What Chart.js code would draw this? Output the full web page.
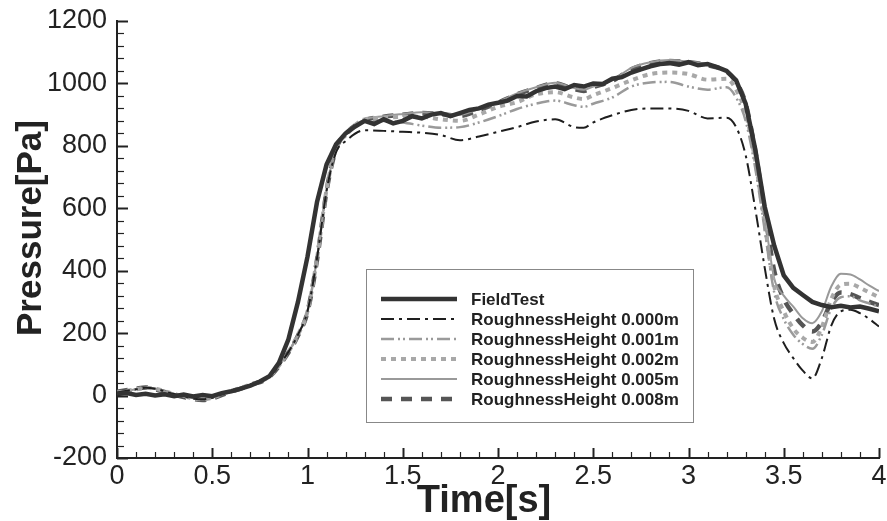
<!DOCTYPE html>
<html>
<head>
<meta charset="utf-8">
<script src="https://cdn.jsdelivr.net/npm/chart.js@4.4.0/dist/chart.umd.min.js"></script>
<style>
  html, body { margin: 0; padding: 0; background: #fff; }
</style>
</head>
<body>
<canvas id="pressureChart" width="887" height="521"></canvas>
<script>
// --- Data ---
const SERIES_LABELS = [
  "FieldTest",
  "RoughnessHeight 0.000m",
  "RoughnessHeight 0.001m",
  "RoughnessHeight 0.002m",
  "RoughnessHeight 0.005m",
  "RoughnessHeight 0.008m"
];

const X_TICKS = [0, 0.5, 1, 1.5, 2, 2.5, 3, 3.5, 4];
const Y_TICKS = [-200, 0, 200, 400, 600, 800, 1000, 1200];
const X_TITLE = "Time[s]";
const Y_TITLE = "Pressure[Pa]";

const FIELD_TIME = [
  0, 0.05, 0.1, 0.15, 0.2, 0.25, 0.3, 0.35, 0.4, 0.45,
  0.5, 0.55, 0.6, 0.65, 0.7, 0.75, 0.8, 0.85, 0.9, 0.95,
  1.0, 1.05, 1.1, 1.15, 1.2, 1.25, 1.3, 1.35, 1.4, 1.45,
  1.5, 1.55, 1.6, 1.65, 1.7, 1.75, 1.8, 1.85, 1.9, 1.95,
  2.0, 2.05, 2.1, 2.15, 2.2, 2.25, 2.3, 2.35, 2.4, 2.45,
  2.5, 2.55, 2.6, 2.65, 2.7, 2.75, 2.8, 2.85, 2.9, 2.95,
  3.0, 3.05, 3.1, 3.15, 3.2, 3.25, 3.3, 3.35, 3.4, 3.45,
  3.5, 3.55, 3.6, 3.65, 3.7, 3.75, 3.8, 3.85, 3.9, 3.95,
  4.0
];
const FIELD_TEST = [
  5, 8, 2, 6, 0, 4, -2, 3, -3, 2,
  -2, 8, 14, 22, 32, 45, 62, 105, 180, 300,
  445, 620, 740, 805, 840, 862, 880, 870, 885, 872,
  880, 895, 888, 900, 905, 895, 905, 915, 920, 932,
  938, 945, 960, 958, 975, 985, 990, 982, 995, 990,
  1000, 998, 1015, 1020, 1035, 1045, 1055, 1062, 1065, 1060,
  1068, 1058, 1062, 1052, 1040, 1010, 935, 790, 605, 480,
  385, 345, 322, 300, 290, 283, 288, 282, 285, 278,
  270
];

const SIM_TIME = [
  0, 0.1, 0.15, 0.2, 0.3, 0.45, 0.6, 0.7, 0.8, 0.9,
  0.95, 1.0, 1.05, 1.1, 1.15, 1.2, 1.3, 1.4, 1.5, 1.6,
  1.7, 1.8, 1.9, 2.0, 2.1, 2.2, 2.3, 2.4, 2.45, 2.5,
  2.6, 2.7, 2.8, 2.9, 3.0, 3.1, 3.2, 3.25, 3.3, 3.35,
  3.4, 3.45, 3.5, 3.55, 3.6, 3.65, 3.7, 3.75, 3.8, 3.85,
  3.9, 3.95, 4.0
];
const RH_000 = [
  10, 20, 25, 22, 5, -12, 15, 35, 62, 140,
  195, 270, 440, 655, 780, 815, 850, 848, 845, 842,
  835, 818, 830, 845, 860, 878, 885, 860, 858, 875,
  898, 915, 920, 920, 912, 888, 890, 860, 770, 600,
  410, 245, 168, 120, 80, 55, 120, 225, 270, 275,
  264, 245, 221
];
const RH_001 = [
  10, 20, 25, 22, 5, -12, 15, 35, 62, 140,
  195, 270, 440, 660, 790, 830, 878, 880, 875, 865,
  858, 860, 875, 895, 918, 935, 945, 930, 925, 935,
  955, 990, 1003, 1005, 990, 980, 988, 955, 880, 730,
  530, 330, 245, 195, 165, 150, 195, 280, 315, 318,
  305, 295, 285
];
const RH_002 = [
  10, 20, 25, 22, 5, -12, 15, 35, 62, 140,
  195, 270, 440, 660, 790, 835, 885, 890, 893, 893,
  885, 880, 900, 925, 940, 965, 972, 955, 950, 962,
  985, 1010, 1030, 1035, 1030, 1012, 1015, 980, 905, 755,
  550, 350, 270, 215, 185, 172, 220, 310, 355, 358,
  345, 330, 315
];
const RH_005 = [
  10, 20, 25, 22, 5, -12, 15, 35, 62, 140,
  195, 270, 440, 660, 795, 840, 885, 895, 902, 908,
  905, 900, 918, 940, 968, 988, 1002, 985, 980, 990,
  1010, 1050, 1068, 1075, 1070, 1062, 1040, 1005, 930, 780,
  575, 375, 320, 285, 248, 232, 270, 350, 390, 388,
  372, 352, 335
];
const RH_008 = [
  12, 22, 26, 20, 3, -14, 13, 34, 60, 138,
  192, 268, 435, 655, 790, 838, 882, 893, 900, 905,
  902, 896, 915, 938, 965, 985, 1000, 982, 976, 988,
  1008, 1045, 1065, 1072, 1068, 1058, 1038, 1005, 935, 785,
  590, 400, 310, 262, 225, 205, 235, 300, 330, 325,
  312, 300, 290
];

const FONT = '"Liberation Sans", Arial, sans-serif';
const INK = "#222";

function toPoints(times, values) {
  return times.map((t, i) => ({ x: t, y: values[i] }));
}

// --- Inward major/minor tick marks (drawn from the scales) ---
const inwardTicks = {
  id: "inwardTicks",
  afterDraw(chart) {
    const ctx = chart.ctx;
    const xs = chart.scales.x;
    const ys = chart.scales.y;
    const axisY = ys.getPixelForValue(ys.min);
    const axisX = xs.getPixelForValue(xs.min);
    ctx.save();
    ctx.strokeStyle = INK;
    for (let i = 0; i <= 40; i++) {
      const major = i % 5 === 0;
      const px = Math.round(xs.getPixelForValue(i / 10)) + 0.5;
      ctx.lineWidth = major ? 2 : 1.2;
      ctx.beginPath();
      ctx.moveTo(px, axisY);
      ctx.lineTo(px, axisY - (major ? 10 : 6));
      ctx.stroke();
    }
    for (let i = 0; i <= 35; i++) {
      const v = -200 + i * 40;
      const major = v % 200 === 0;
      const py = Math.round(ys.getPixelForValue(v)) + 0.5;
      ctx.lineWidth = major ? 2 : 1.2;
      ctx.beginPath();
      ctx.moveTo(axisX, py);
      ctx.lineTo(axisX + (major ? 11 : 7), py);
      ctx.stroke();
    }
    ctx.restore();
  }
};

// --- Axis titles, placed like the original ---
const axisTitles = {
  id: "axisTitles",
  afterDraw(chart) {
    const ctx = chart.ctx;
    ctx.save();
    ctx.fillStyle = INK;
    ctx.textAlign = "center";
    ctx.textBaseline = "middle";
    ctx.font = "bold 38px " + FONT;
    ctx.fillText(X_TITLE, 484, 502);
    ctx.translate(31, 228);
    ctx.rotate(-Math.PI / 2);
    ctx.font = "bold 35px " + FONT;
    ctx.fillText(Y_TITLE, 0, 0);
    ctx.restore();
  }
};

// --- Boxed legend inside the plot ---
const boxLegend = {
  id: "boxLegend",
  afterDraw(chart) {
    const ctx = chart.ctx;
    const box = { x: 366.5, y: 269.5, w: 327, h: 153 };
    ctx.save();
    ctx.fillStyle = "#fff";
    ctx.fillRect(box.x, box.y, box.w, box.h);
    ctx.strokeStyle = "#888";
    ctx.lineWidth = 1;
    ctx.strokeRect(box.x, box.y, box.w, box.h);
    chart.data.datasets.forEach((ds, i) => {
      const rowY = 299 + i * 20;
      ctx.setLineDash(ds.borderDash || []);
      ctx.strokeStyle = ds.borderColor;
      ctx.lineWidth = ds.borderWidth;
      ctx.beginPath();
      ctx.moveTo(381, rowY);
      ctx.lineTo(457, rowY);
      ctx.stroke();
      ctx.setLineDash([]);
      ctx.fillStyle = INK;
      ctx.font = "bold 17px " + FONT;
      ctx.textBaseline = "middle";
      ctx.textAlign = "left";
      ctx.fillText(ds.label, 471, rowY + 1);
    });
    ctx.restore();
  }
};

const ctx = document.getElementById("pressureChart").getContext("2d");

new Chart(ctx, {
  type: "line",
  data: {
    datasets: [
      {
        label: SERIES_LABELS[0],
        data: toPoints(FIELD_TIME, FIELD_TEST),
        borderColor: "#333",
        borderWidth: 4.5,
        tension: 0
      },
      {
        label: SERIES_LABELS[1],
        data: toPoints(SIM_TIME, RH_000),
        borderColor: "#1e1e1e",
        borderWidth: 2,
        borderDash: [13, 5, 3, 5],
        cubicInterpolationMode: "monotone"
      },
      {
        label: SERIES_LABELS[2],
        data: toPoints(SIM_TIME, RH_001),
        borderColor: "#9a9a9a",
        borderWidth: 2.5,
        borderDash: [13, 4, 2, 3, 2, 4],
        cubicInterpolationMode: "monotone"
      },
      {
        label: SERIES_LABELS[3],
        data: toPoints(SIM_TIME, RH_002),
        borderColor: "#a8a8a8",
        borderWidth: 4,
        borderDash: [5, 5],
        cubicInterpolationMode: "monotone"
      },
      {
        label: SERIES_LABELS[4],
        data: toPoints(SIM_TIME, RH_005),
        borderColor: "#999",
        borderWidth: 2,
        cubicInterpolationMode: "monotone"
      },
      {
        label: SERIES_LABELS[5],
        data: toPoints(SIM_TIME, RH_008),
        borderColor: "#555",
        borderWidth: 4.5,
        borderDash: [11, 9],
        cubicInterpolationMode: "monotone"
      }
    ]
  },
  options: {
    responsive: false,
    animation: false,
    elements: { point: { radius: 0 } },
    layout: { padding: { top: 21, right: 8, left: 0, bottom: 0 } },
    plugins: {
      legend: { display: false },
      tooltip: { enabled: false }
    },
    scales: {
      x: {
        type: "linear",
        min: 0,
        max: 4,
        afterFit: scale => {
          scale.height = 63;
          scale.paddingLeft = 0;
          scale.paddingRight = 0;
        },
        afterBuildTicks: scale => { scale.ticks = X_TICKS.map(v => ({ value: v })); },
        ticks: {
          color: INK,
          font: { family: FONT, size: 27 },
          padding: 2,
          maxRotation: 0,
          autoSkip: false,
          callback: v => String(v)
        },
        grid: { display: false, drawTicks: false },
        border: { display: true, color: INK, width: 2 },
        title: { display: false }
      },
      y: {
        type: "linear",
        min: -200,
        max: 1200,
        afterFit: scale => {
          scale.width = 117;
          scale.paddingTop = 0;
          scale.paddingBottom = 0;
        },
        afterBuildTicks: scale => { scale.ticks = Y_TICKS.map(v => ({ value: v })); },
        ticks: {
          color: INK,
          font: { family: FONT, size: 27 },
          padding: 10,
          autoSkip: false,
          callback: v => String(v)
        },
        grid: { display: false, drawTicks: false },
        border: { display: true, color: INK, width: 2 },
        title: { display: false }
      }
    }
  },
  plugins: [inwardTicks, axisTitles, boxLegend]
});
</script>
</body>
</html>
